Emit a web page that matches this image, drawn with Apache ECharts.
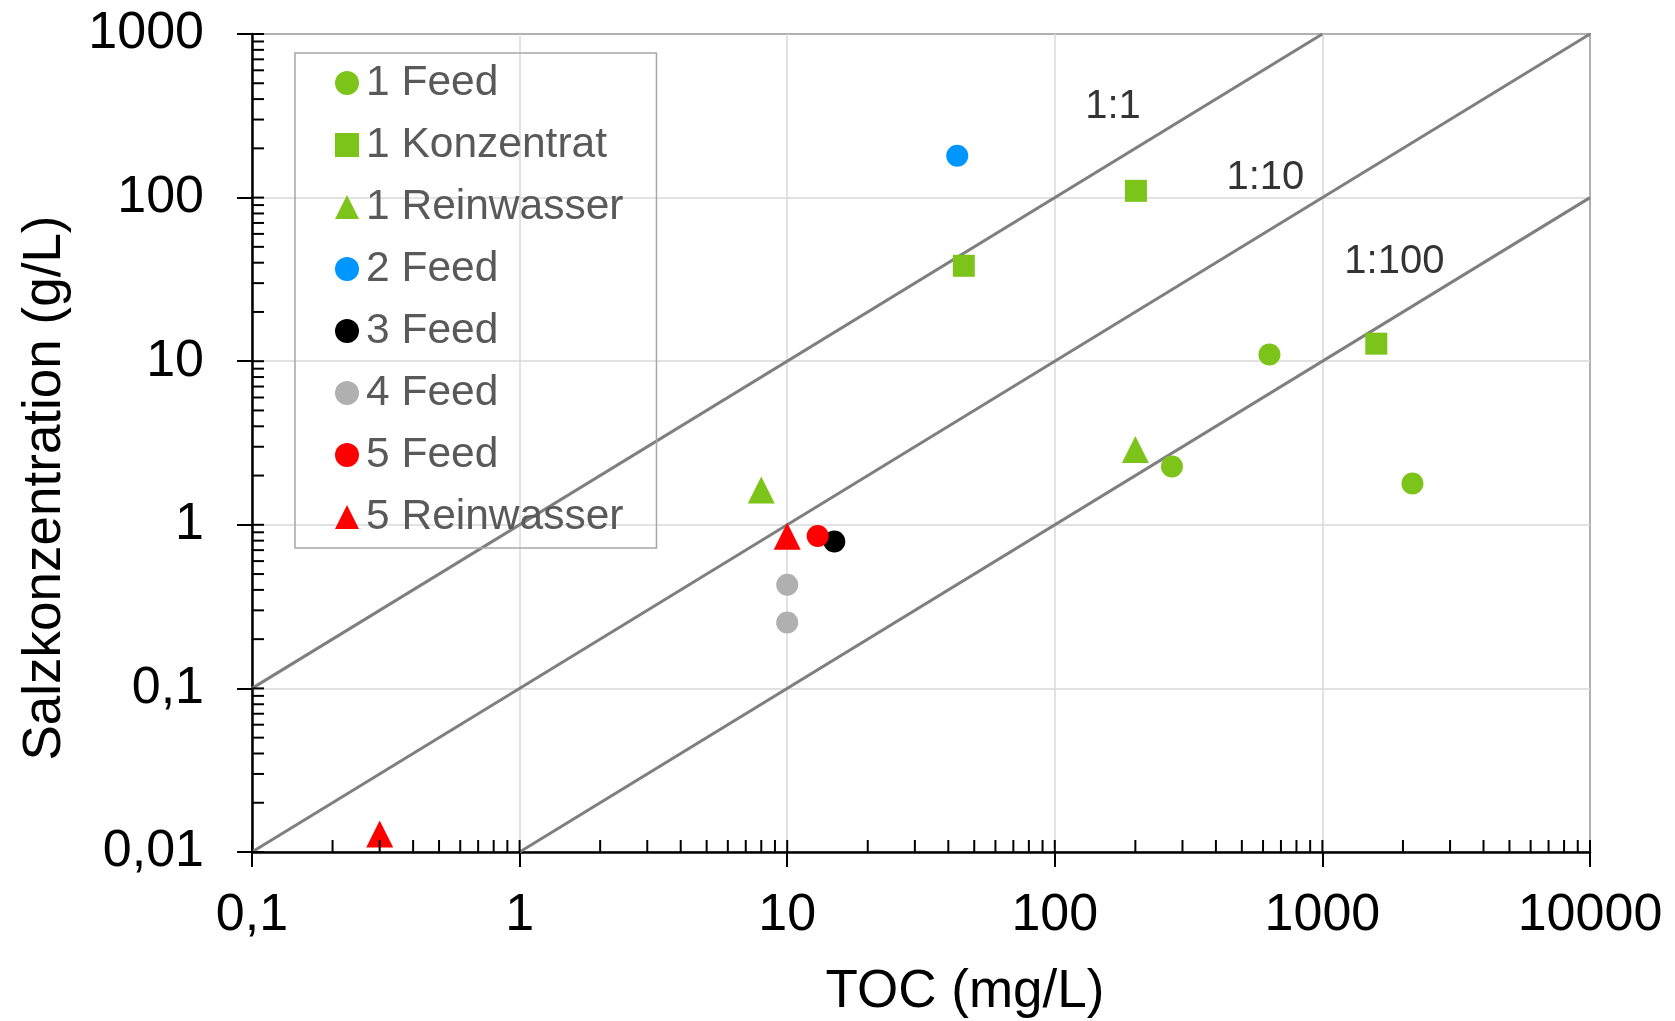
<!DOCTYPE html>
<html>
<head>
<meta charset="utf-8">
<script src="https://cdn.jsdelivr.net/npm/echarts@6/dist/echarts.min.js"></script>
<style>
  html, body { margin: 0; padding: 0; background: #fff; }
  #main { width: 1675px; height: 1021px; }
</style>
</head>
<body>
<div id="main"></div>
<script>
// Messwerte: [TOC (mg/L), Salzkonzentration (g/L)]
const feed1 = [[634, 11.0], [274, 2.27], [2170, 1.79]]
const konzentrat1 = [[45.7, 38.3], [201, 110], [1590, 12.8]]
const reinwasser1 = [[8, 1.63], [200, 2.89]]
const feed2 = [[43.2, 180]]
const feed3 = [[15, 0.79]]
const feed4 = [[10, 0.43], [10, 0.253]]
const feed5 = [[13, 0.855]]
const reinwasser5 = [[10, 0.85], [0.3, 0.0129]]

// Verhältnislinien (Endpunkte) und ihre Beschriftungen
const line1 = [[0.1, 0.1], [1000, 1000]]
const line10 = [[0.1, 0.01], [10000, 1000]]
const line100 = [[1, 0.01], [10000, 100]]
const ratioLabels = [
  { name: '1:1', value: [165, 358] },
  { name: '1:10', value: [612, 132] },
  { name: '1:100', value: [1858, 40.4] }
]

// Achsen
const xTickLabels = ['0,1', '1', '10', '100', '1000', '10000']
const yTickLabels = ['0,01', '0,1', '1', '10', '100', '1000']
const xDecades = [0.1, 1, 10, 100, 1000, 10000]
const yDecades = [0.01, 0.1, 1, 10, 100, 1000]
const minorSteps = [2, 3, 4, 5, 6, 7, 8, 9]

const green = '#7dc41a'
const FONT = '"Liberation Sans", Arial, sans-serif'

// Teilstriche innen (Haupt- und Nebenteilung), kind 0 = x-Achse, 1 = y-Achse
let tickData = []
xDecades.forEach((d, i) => {
  tickData.push([d, 0.01, 0])
  if (i < xDecades.length - 1) minorSteps.forEach(m => tickData.push([d * m, 0.01, 0]))
})
yDecades.forEach((d, i) => {
  tickData.push([0.1, d, 1])
  if (i < yDecades.length - 1) minorSteps.forEach(m => tickData.push([0.1, d * m, 1]))
})

const labelOf = (arr, first, v) => arr[Math.round(Math.log10(v) - Math.log10(first))]

const scatter = (name, data, symbol, color, size) => ({
  name, type: 'scatter', data, symbol, symbolSize: size,
  itemStyle: { color, opacity: 1 }, z: 5
})

const refLine = data => ({
  type: 'line', data, symbol: 'none', silent: true,
  lineStyle: { color: '#7f7f7f', width: 3 }, z: 3
})

const chart = echarts.init(document.getElementById('main'))
chart.setOption({
  animation: false,
  backgroundColor: '#fff',
  grid: {
    left: 252, right: 85, top: 34, bottom: 169,
    outerBoundsMode: 'none',
    show: true, borderColor: '#000', borderWidth: 1.5
  },
  legend: {
    orient: 'vertical',
    left: 295, top: 53,
    padding: [8, 33, 9, 40],
    itemGap: 18,
    itemWidth: 24, itemHeight: 24,
    borderColor: '#a6a6a6', borderWidth: 1.5,
    textStyle: {
      fontFamily: FONT, fontSize: 42.5, color: '#595959', lineHeight: 44,
      padding: [0, 0, 0, 2]
    },
    data: ['1 Feed', '1 Konzentrat', '1 Reinwasser', '2 Feed', '3 Feed', '4 Feed', '5 Feed', '5 Reinwasser']
  },
  xAxis: {
    type: 'log', logBase: 10, min: 0.1, max: 10000,
    name: 'TOC (mg/L)', nameLocation: 'middle', nameGap: 114,
    nameTextStyle: { fontFamily: FONT, fontSize: 53, color: '#000', padding: [0, 0, 0, 88] },
    axisLine: { show: true, onZero: false, lineStyle: { color: '#000', width: 2.5 } },
    axisTick: { show: true, inside: false, length: 15, lineStyle: { color: '#000', width: 2 } },
    axisLabel: {
      fontFamily: FONT, fontSize: 52, color: '#000', margin: 38,
      formatter: v => labelOf(xTickLabels, 0.1, v)
    },
    splitLine: { show: true, lineStyle: { color: '#d9d9d9', width: 1.5 } }
  },
  yAxis: {
    type: 'log', logBase: 10, min: 0.01, max: 1000,
    name: 'Salzkonzentration (g/L)', nameLocation: 'middle', nameGap: 180, nameRotate: 90,
    nameTextStyle: { fontFamily: FONT, fontSize: 53, color: '#000', padding: [0, 90, 0, 0] },
    axisLine: { show: true, onZero: false, lineStyle: { color: '#000', width: 2.5 } },
    axisTick: { show: true, inside: false, length: 15, lineStyle: { color: '#000', width: 2 } },
    axisLabel: {
      fontFamily: FONT, fontSize: 52, color: '#000', margin: 48,
      formatter: v => labelOf(yTickLabels, 0.01, v)
    },
    splitLine: { show: true, lineStyle: { color: '#d9d9d9', width: 1.5 } }
  },
  series: [
    refLine(line1),
    refLine(line10),
    refLine(line100),
    {
      type: 'custom', silent: true, z: 6,
      data: tickData,
      renderItem: (params, api) => {
        const p = api.coord([api.value(0), api.value(1)])
        const isY = api.value(2) === 1
        return {
          type: 'line',
          shape: isY
            ? { x1: p[0], y1: p[1], x2: p[0] + 12, y2: p[1] }
            : { x1: p[0], y1: p[1], x2: p[0], y2: p[1] - 12 },
          style: { stroke: '#000', lineWidth: 2 }
        }
      }
    },
    {
      type: 'scatter', silent: true, symbolSize: 0, z: 4,
      data: ratioLabels,
      label: {
        show: true, position: 'inside', formatter: '{b}',
        fontFamily: FONT, fontSize: 40, color: '#000'
      }
    },
    scatter('1 Feed', feed1, 'circle', green, 22),
    scatter('1 Konzentrat', konzentrat1, 'rect', green, 22),
    scatter('1 Reinwasser', reinwasser1, 'triangle', green, 27),
    scatter('2 Feed', feed2, 'circle', '#0096ff', 22),
    scatter('3 Feed', feed3, 'circle', '#000000', 22),
    scatter('4 Feed', feed4, 'circle', '#b0b0b0', 22),
    scatter('5 Feed', feed5, 'circle', '#ff0000', 22),
    scatter('5 Reinwasser', reinwasser5, 'triangle', '#ff0000', 27)
  ]
})
</script>
</body>
</html>
